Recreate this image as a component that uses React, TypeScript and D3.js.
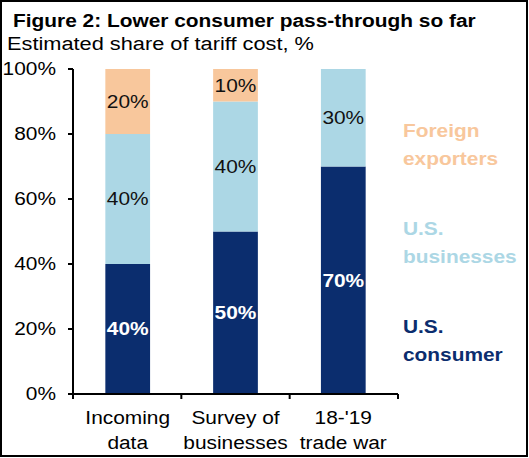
import { useEffect } from "react";
import * as d3 from "d3";

const categories = [["Incoming", "data"], ["Survey of", "businesses"], ["18-'19", "trade war"]];
const consumer = [40, 50, 70];
const businesses = [40, 40, 30];
const foreign = [20, 10, 0];
const yTicks = [0, 20, 40, 60, 80, 100];

const seriesKeys = ["consumer", "businesses", "foreign"];
const seriesColors = ["#0b2d6e", "#acd7e5", "#f8c79c"];
const labelColors = ["#ffffff", "#111111", "#111111"];
const legendLines = [["U.S.", "consumer"], ["U.S.", "businesses"], ["Foreign", "exporters"]];

const W = 529;
const H = 458;
const SX = 1.16; // the source picture is stretched sideways

// text drawn with a horizontal stretch around its anchor point
function Txt({ x, y, sx = SX, children, ...rest }: any) {
  return (
    <text transform={`translate(${x},${y}) scale(${sx},1)`} {...rest}>
      {children}
    </text>
  );
}

export default function App() {
  useEffect(() => {
    document.body.style.margin = "0";
  }, []);

  const rows = categories.map((c, i) => ({
    name: c.join(" "),
    consumer: consumer[i],
    businesses: businesses[i],
    foreign: foreign[i],
  }));
  const stacked = d3.stack<any>().keys(seriesKeys)(rows);

  const x = d3
    .scaleBand()
    .domain(rows.map((r) => r.name))
    .range([73, 398])
    .paddingInner(0.585)
    .paddingOuter(0.3);
  const y = d3.scaleLinear().domain([0, 100]).range([394, 69]);
  const cx = (name: string) => (x(name) ?? 0) + x.bandwidth() / 2;

  const font = "Arial, 'Liberation Sans', sans-serif";

  return (
    <svg width={W} height={H} style={{ display: "block", fontFamily: font }}>
      <rect x={1} y={1} width={W - 3} height={H - 3} fill="#fff" stroke="#000" strokeWidth={2} />
      <Txt x={13} y={27} sx={1.16} fontSize={18} fontWeight="bold" fill="#000">
        Figure 2: Lower consumer pass-through so far
      </Txt>
      <Txt x={7} y={50} sx={1.21} fontSize={18} fill="#000">
        Estimated share of tariff cost, %
      </Txt>

      {stacked.map((s, si) => (
        <g key={s.key}>
          {s.map((d, i) =>
            d[1] - d[0] > 0 ? (
              <g key={i}>
                <rect
                  x={x(rows[i].name)}
                  y={y(d[1])}
                  width={x.bandwidth()}
                  height={y(d[0]) - y(d[1])}
                  fill={seriesColors[si]}
                />
                <Txt
                  x={cx(rows[i].name)}
                  y={(y(d[0]) + y(d[1])) / 2}
                  dy="0.36em"
                  textAnchor="middle"
                  fontSize={18}
                  fontWeight={si === 0 ? "bold" : "normal"}
                  fill={labelColors[si]}
                >
                  {`${d[1] - d[0]}%`}
                </Txt>
              </g>
            ) : null
          )}
        </g>
      ))}

      {/* y axis */}
      <line x1={73} x2={73} y1={y(100)} y2={y(0)} stroke="#000" strokeWidth={2} />
      {yTicks.map((t) => (
        <g key={t}>
          <line x1={68} x2={73} y1={y(t)} y2={y(t)} stroke="#000" strokeWidth={2} />
          <Txt x={56} y={y(t)} dy="0.36em" textAnchor="end" fontSize={18} fill="#000">
            {`${t}%`}
          </Txt>
        </g>
      ))}

      {/* x axis */}
      <line x1={73} x2={398} y1={y(0)} y2={y(0)} stroke="#000" strokeWidth={2} />
      {[0, 1, 2, 3].map((i) => {
        const px = 73 + (i * (398 - 73)) / 3;
        return <line key={i} x1={px} x2={px} y1={y(0)} y2={y(0) + 5} stroke="#000" strokeWidth={2} />;
      })}
      {rows.map((r, i) => (
        <g key={r.name}>
          <Txt x={cx(r.name)} y={424} textAnchor="middle" fontSize={18} fill="#000">
            {categories[i][0]}
          </Txt>
          <Txt x={cx(r.name)} y={449} textAnchor="middle" fontSize={18} fill="#000">
            {categories[i][1]}
          </Txt>
        </g>
      ))}

      {/* legend labels */}
      {legendLines.map((lines, si) => {
        const base = [333, 235, 137][si];
        return (
          <g key={si}>
            <Txt x={403} y={base} fontSize={18} fontWeight="bold" fill={seriesColors[si]}>
              {lines[0]}
            </Txt>
            <Txt x={403} y={base + 28} fontSize={18} fontWeight="bold" fill={seriesColors[si]}>
              {lines[1]}
            </Txt>
          </g>
        );
      })}
    </svg>
  );
}
